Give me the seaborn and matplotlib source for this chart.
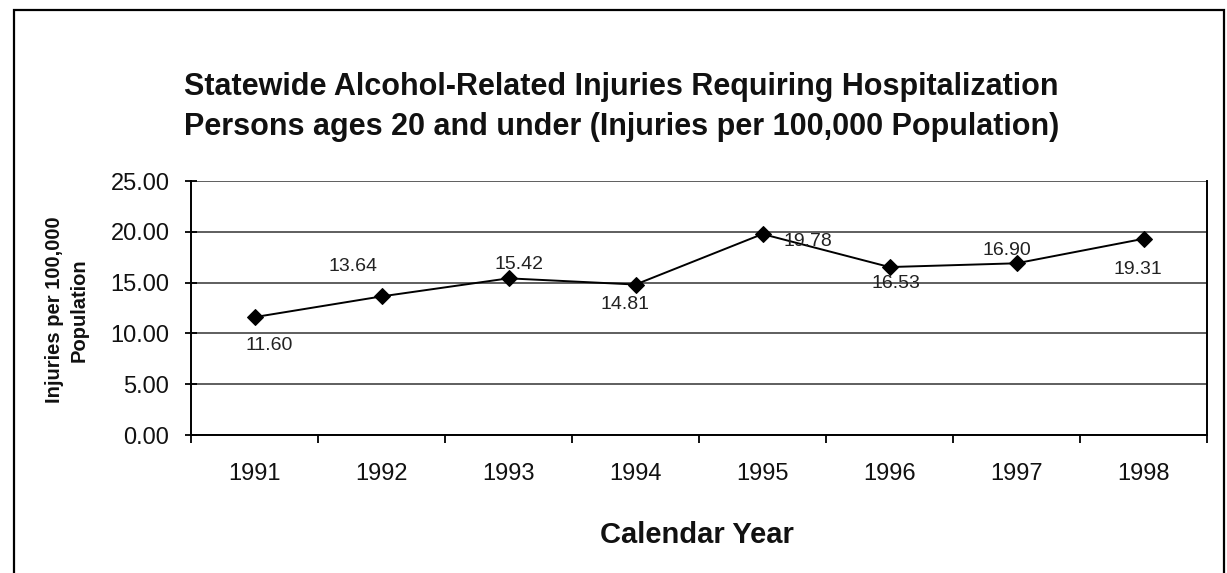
import pandas as pd
import seaborn as sns
import matplotlib.pyplot as plt
from matplotlib.patches import Rectangle

years = ['1991', '1992', '1993', '1994', '1995', '1996', '1997', '1998']
rates = [11.60, 13.64, 15.42, 14.81, 19.78, 16.53, 16.90, 19.31]

# data label placement (pixel offset of label centre from its point), Excel-like
label_offsets = [(15, -28), (-28, 30), (10, 14), (-10, -20),
                 (45, -7), (6, -16), (-10, 13), (-6, -31)]

df = pd.DataFrame({'year': years, 'rate': rates})
df['x'] = range(len(years))

sns.set_style('white')
plt.rcParams['font.family'] = ['Liberation Sans', 'DejaVu Sans']

W, H = 1227, 573
fig = plt.figure(figsize=(W / 100, H / 100), dpi=100)
ax = fig.add_axes([191 / W, 1 - 435 / H, (1207 - 191) / W, (435 - 181) / H])

sns.lineplot(data=df, x='x', y='rate', ax=ax, color='black', linewidth=1.4,
             marker='D', markersize=8.5, markeredgecolor='black')

ax.set_xlim(-0.5, len(years) - 0.5)
ax.set_ylim(0, 25)
ax.set_yticks([0, 5, 10, 15, 20, 25])
ax.set_yticklabels([f'{v:.2f}' for v in [0, 5, 10, 15, 20, 25]], fontsize=17, color='#111111')
ax.yaxis.grid(True, color='#333333', linewidth=1.1)
ax.set_axisbelow(True)

# category ticks between the years, labels centred under each year
ax.set_xticks([i - 0.5 for i in range(len(years) + 1)])
ax.set_xticklabels([])
ax.set_xticks(range(len(years)), minor=True)
ax.set_xticklabels(years, minor=True, fontsize=17, color='#111111')
ax.tick_params(axis='x', which='major', bottom=True, direction='out', length=6, width=1.3, color='black')
ax.tick_params(axis='x', which='minor', bottom=True, length=0, pad=20)
ax.tick_params(axis='y', left=True, direction='inout', length=9, width=1.3, color='black', pad=11)

for s in ['left', 'bottom', 'right']:
    ax.spines[s].set_color('black')
    ax.spines[s].set_linewidth(1.4)
ax.spines['top'].set_visible(False)

ax.set_xlabel('')
ax.set_ylabel('')

for xi, v, (dx, dy) in zip(df['x'], rates, label_offsets):
    ax.annotate(f'{v:.2f}', (xi, v), xytext=(dx * 0.72, dy * 0.72), textcoords='offset points',
                ha='center', va='center', fontsize=14, color='#222222')

fig.text(697 / W, 1 - 535 / H, 'Calendar Year', ha='center', va='center',
         fontsize=21, fontweight='bold', color='#111111')
fig.text(67 / W, 1 - 310 / H, 'Injuries per 100,000\nPopulation', ha='center', va='center',
         rotation=90, fontsize=14.5, fontweight='bold', linespacing=1.35, color='#111111')

fig.text(184 / W, 1 - 87 / H, 'Statewide Alcohol-Related Injuries Requiring Hospitalization',
         ha='left', va='center', fontsize=22, fontweight='bold', color='#111111')
fig.text(184 / W, 1 - 127 / H, 'Persons ages 20 and under (Injuries per 100,000 Population)',
         ha='left', va='center', fontsize=22, fontweight='bold', color='#111111')

# outer chart frame
fig.patches.append(Rectangle((14 / W, -0.01), (1224 - 14) / W, (H - 10) / H + 0.01,
                             transform=fig.transFigure, fill=False, edgecolor='black', linewidth=1.6))

fig.savefig('out.png', dpi=100)
